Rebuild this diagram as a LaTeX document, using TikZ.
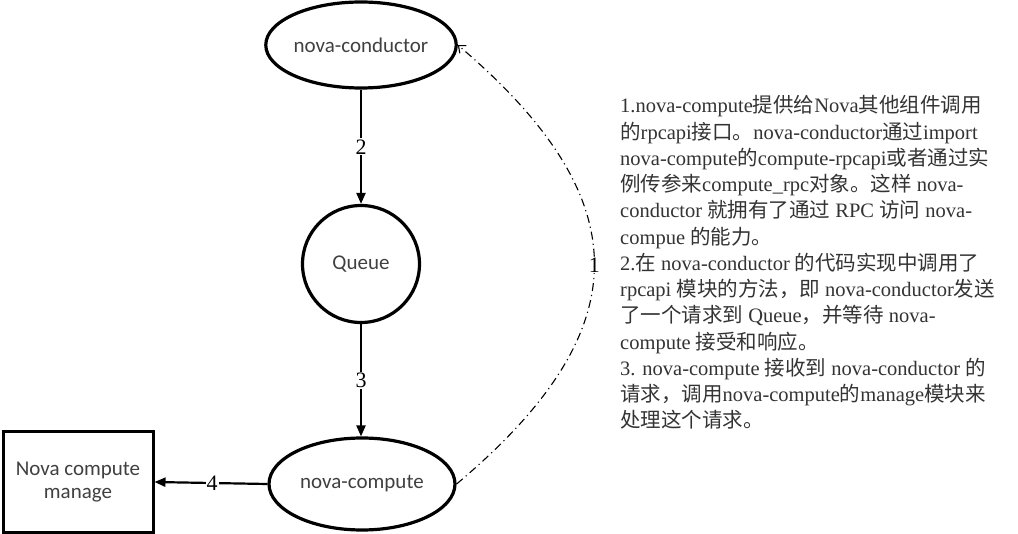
\documentclass[tikz,border=0pt]{standalone}
\usepackage{fontspec}
\setmainfont{Liberation Serif}
\newfontfamily\cjk[Scale=1.0]{Noto Sans CJK SC}
\newfontfamily\calib{Carlito}
\usetikzlibrary{shapes.geometric,arrows.meta}
\newcommand\zh[1]{{\cjk #1}}
\begin{document}
\begin{tikzpicture}[x=1pt,y=-1pt,
  shapetxt/.style={text=black!75,font=\calib\fontsize{21}{23}\selectfont},
  ell/.style={draw,ellipse,line width=3.2pt,inner sep=0pt,shapetxt},
  flow/.style={line width=2.2pt,-{Triangle[length=11pt,width=9pt]}},
  numlab/.style={fill=white,inner sep=1pt,font=\fontsize{22}{24}\selectfont},
  txt/.style={anchor=base west,inner sep=0pt,text=black!80,font=\fontsize{20.5}{24}\selectfont}]
\useasboundingbox (0,0) rectangle (1018,534);
\node[ell,minimum width=185pt,minimum height=86pt] (cond) at (361,45) {nova-conductor};
\node[draw,circle,line width=3.2pt,inner sep=0pt,minimum size=117pt,shapetxt] (queue) at (361,264) {Queue};
\node[ell,minimum width=186pt,minimum height=92pt] (comp) at (362,484) {nova-compute};
\node[draw,rectangle,line width=3pt,inner sep=0pt,minimum width=150pt,minimum height=100pt,align=center,shapetxt] (mgr) at (78,482) {Nova compute\\manage};
\draw[flow] (cond.south) -- node[numlab] (n2) {2} (queue.north);
\draw[flow] (queue.south) -- node[numlab] (n3) {3} (queue.south |- comp.north);
\draw[flow] (comp.west) -- node[numlab,pos=0.49] (n4) {4} (mgr.east);
\draw[line width=1.1pt,dash pattern=on 8pt off 4pt on 1.2pt off 4pt,-{Straight Barb[length=6pt,width=10pt]}]
  (comp.east) .. controls (640,330) and (640,200) .. node[numlab,pos=0.5] (n1) {1} (cond.east);
\node[txt] (l1) at (620,113) {1.nova-compute\zh{提供给}Nova\zh{其他组件调用}};
\node[txt] (l2) at (620,139.25) {\zh{的}rpcapi\zh{接口。}nova-conductor\zh{通过}import};
\node[txt] (l3) at (620,165.5) {nova-compute\zh{的}compute-rpcapi\zh{或者通过实}};
\node[txt] (l4) at (620,191.75) {\zh{例传参来}compute\_rpc\zh{对象。这样} nova-};
\node[txt] (l5) at (620,218) {conductor \zh{就拥有了通过} RPC \zh{访问} nova-};
\node[txt] (l6) at (620,244.25) {compue \zh{的能力。}};
\node[txt] (l7) at (620,270.5) {2.\zh{在} nova-conductor \zh{的代码实现中调用了}};
\node[txt] (l8) at (620,296.75) {rpcapi \zh{模块的方法，即} nova-conductor\zh{发送}};
\node[txt] (l9) at (620,323) {\zh{了一个请求到} Queue\zh{，并等待} nova-};
\node[txt] (l10) at (620,349.25) {compute \zh{接受和响应。}};
\node[txt] (l11) at (620,375.5) {3. nova-compute \zh{接收到} nova-conductor \zh{的}};
\node[txt] (l12) at (620,401.75) {\zh{请求，调用}nova-compute\zh{的}manage\zh{模块来}};
\node[txt] (l13) at (620,428) {\zh{处理这个请求。}};
\end{tikzpicture}
\end{document}
